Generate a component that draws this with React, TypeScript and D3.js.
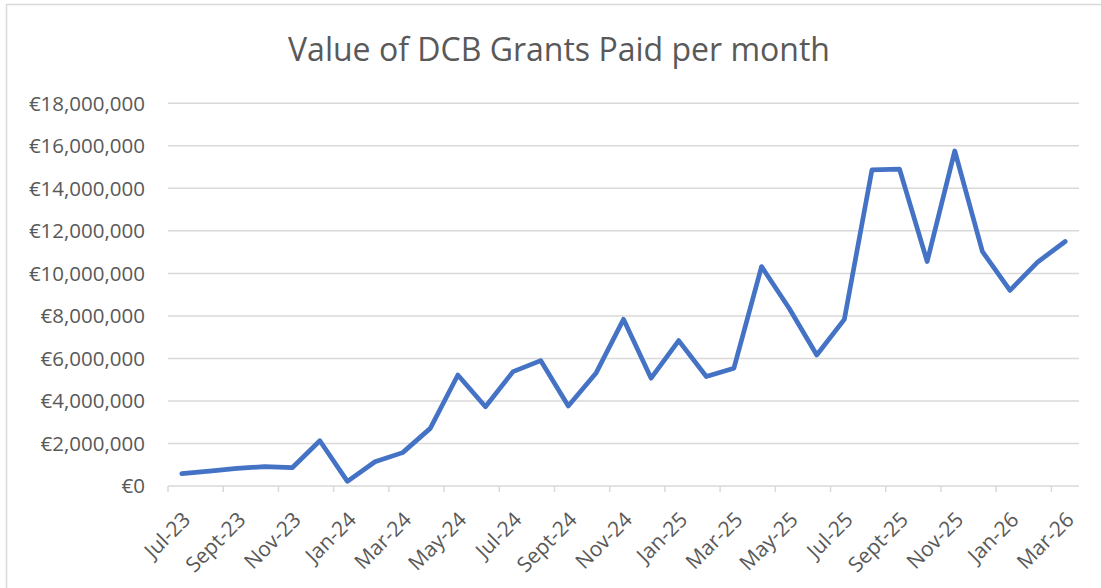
import React, { useEffect, useRef } from "react";
import * as d3 from "d3";

const months = [
  "Jul-23", "Aug-23", "Sept-23", "Oct-23", "Nov-23", "Dec-23",
  "Jan-24", "Feb-24", "Mar-24", "Apr-24", "May-24", "Jun-24",
  "Jul-24", "Aug-24", "Sept-24", "Oct-24", "Nov-24", "Dec-24",
  "Jan-25", "Feb-25", "Mar-25", "Apr-25", "May-25", "Jun-25",
  "Jul-25", "Aug-25", "Sept-25", "Oct-25", "Nov-25", "Dec-25",
  "Jan-26", "Feb-26", "Mar-26",
];

const grantsPaid = [
  580000, 700000, 830000, 910000, 860000, 2130000,
  220000, 1140000, 1570000, 2710000, 5220000, 3730000,
  5380000, 5900000, 3760000, 5300000, 7840000, 5070000,
  6840000, 5150000, 5540000, 10320000, 8360000, 6160000,
  7840000, 14870000, 14900000, 10560000, 15760000, 11030000,
  9200000, 10530000, 11500000,
];

const yTicks = [0, 2000000, 4000000, 6000000, 8000000, 10000000, 12000000, 14000000, 16000000, 18000000];

const title = "Value of DCB Grants Paid per month";

export default function App() {
  const svgRef = useRef<SVGSVGElement>(null);

  useEffect(() => {
    const svg = d3.select(svgRef.current);
    svg.selectAll("*").remove();

    const left = 168, right = 1079, top = 103.3, bottom = 486;
    const font = "'Open Sans', Lato, sans-serif";
    const grey = "#595959";

    // chart border
    svg.append("rect")
      .attr("x", 6.5).attr("y", 4.5)
      .attr("width", 1120).attr("height", 620)
      .attr("fill", "#fff")
      .attr("stroke", "#d9d9d9")
      .attr("stroke-width", 1.5);

    const x = d3.scaleBand().domain(months).range([left, right]);
    const y = d3.scaleLinear().domain([0, 18000000]).range([bottom, top]);

    svg.append("text")
      .attr("x", 559).attr("y", 61)
      .attr("text-anchor", "middle")
      .attr("font-family", font)
      .attr("font-size", 32.5)
      .attr("fill", grey)
      .attr("textLength", 542)
      .attr("lengthAdjust", "spacingAndGlyphs")
      .text(title);

    // gridlines
    svg.append("g").selectAll("line")
      .data(yTicks)
      .join("line")
      .attr("x1", left).attr("x2", right)
      .attr("y1", d => y(d)).attr("y2", d => y(d))
      .attr("stroke", "#d9d9d9")
      .attr("stroke-width", 1.5);

    const fmt = d3.format(",");
    svg.append("g").selectAll("text")
      .data(yTicks)
      .join("text")
      .attr("x", 145)
      .attr("y", d => y(d))
      .attr("dy", "0.36em")
      .attr("text-anchor", "end")
      .attr("font-family", font)
      .attr("font-size", 20.5)
      .attr("fill", grey)
      .text(d => "€" + fmt(d));

    // tick marks every two categories
    const tickIdx = d3.range(0, months.length + 1, 2);
    svg.append("g").selectAll("line")
      .data(tickIdx)
      .join("line")
      .attr("x1", i => left + i * x.step())
      .attr("x2", i => left + i * x.step())
      .attr("y1", bottom).attr("y2", bottom + 6)
      .attr("stroke", "#d9d9d9")
      .attr("stroke-width", 1.5);

    const labelled = months.filter((_, i) => i % 2 === 0);
    svg.append("g").selectAll("text")
      .data(labelled)
      .join("text")
      .attr("transform", d => `translate(${x(d)! + x.bandwidth() / 2 + 10},521) rotate(-45)`)
      .attr("text-anchor", "end")
      .attr("font-family", font)
      .attr("font-size", 21)
      .attr("fill", grey)
      .text(d => d);

    const line = d3.line<number>()
      .x((_, i) => x(months[i])! + x.bandwidth() / 2)
      .y(d => y(d));

    svg.append("path")
      .datum(grantsPaid)
      .attr("d", line)
      .attr("fill", "none")
      .attr("stroke", "#4472C4")
      .attr("stroke-width", 4.7)
      .attr("stroke-linejoin", "round")
      .attr("stroke-linecap", "round");
  }, []);

  return (
    <div style={{ position: "absolute", left: 0, top: 0 }}>
      <svg ref={svgRef} width={1101} height={588} style={{ display: "block" }} />
    </div>
  );
}
